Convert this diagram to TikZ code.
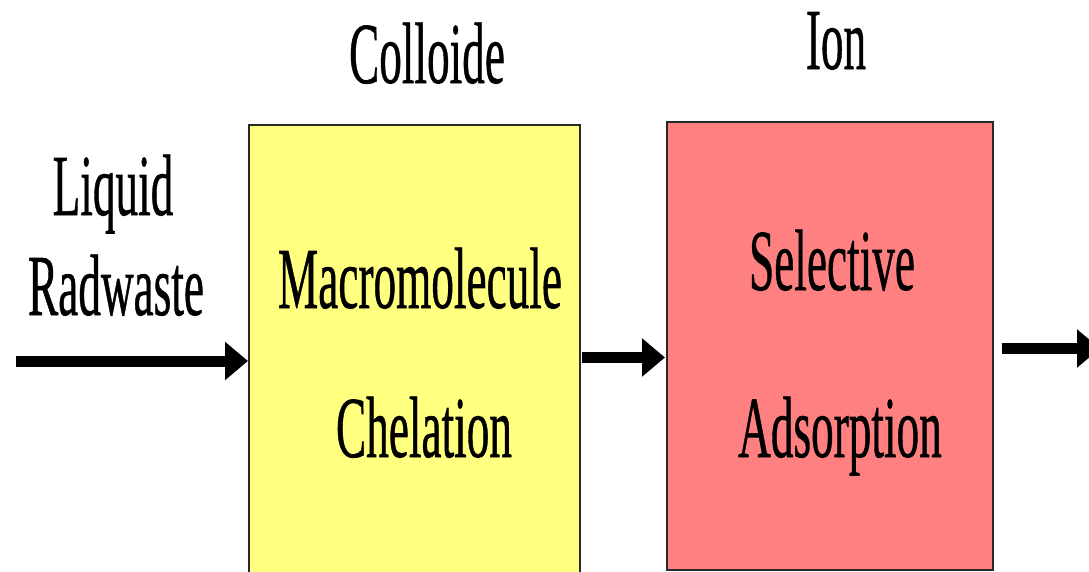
\documentclass[tikz,border=0pt]{standalone}
\usepackage{fontspec}
\setmainfont{Liberation Serif}
\newfontfamily\heavyserif[FakeBold=0.8]{Liberation Serif}
\usetikzlibrary{arrows.meta}
\definecolor{boxyellow}{RGB}{255,255,128}
\definecolor{boxred}{RGB}{255,128,128}
\definecolor{edgegray}{RGB}{40,40,40}
\tikzset{
  procbox/.style={draw=edgegray, line width=1.3pt, inner sep=0pt, outer sep=0pt},
  lbl/.style={anchor=base, inner sep=0pt, font=\heavyserif\fontsize{87}{100}\selectfont},
  flow/.style={line width=11pt, -{Triangle[length=23pt,width=37pt]}}
}
\newcommand{\cond}[1]{\scalebox{0.52}[1]{#1}}
\begin{document}
\begin{tikzpicture}[x=1pt,y=-1pt]
\useasboundingbox (0,0) rectangle (1089,571);
\begin{scope}
\clip (0,0) rectangle (1089,571);
\node[procbox, fill=boxyellow, minimum width=331pt, minimum height=454pt] (yb) at (414.5,352) {};
\node[procbox, fill=boxred, minimum width=326pt, minimum height=448pt] (rb) at (830,346) {};
\end{scope}
% labels
\node[lbl] (colloide) at (427,83) {\cond{Colloide}};
\node[lbl] (ion) at (836,69) {\cond{Ion}};
\node[lbl] (liquid) at (113,215) {\cond{Liquid}};
\node[lbl] (radwaste) at (116,315) {\cond{Radwaste}};
\node[lbl] (macro) at (420,308) {\cond{Macromolecule}};
\node[lbl] (chel) at (424,457) {\cond{Chelation}};
\node[lbl] (sel) at (832,290) {\cond{Selective}};
\node[lbl] (ads) at (840,457) {\cond{Adsorption}};
% connectors
\coordinate (in) at (16,361);
\coordinate (out) at (1100,348.5);
\draw[flow, shorten >=1pt] (in) -- (yb.west |- in);
\draw[flow] ([xshift=2pt]yb.east |- 0,357.5) -- ([xshift=-2pt]rb.west |- 0,357.5);
\draw[flow] ([xshift=9pt]rb.east |- out) -- (out);
\end{tikzpicture}
\end{document}
